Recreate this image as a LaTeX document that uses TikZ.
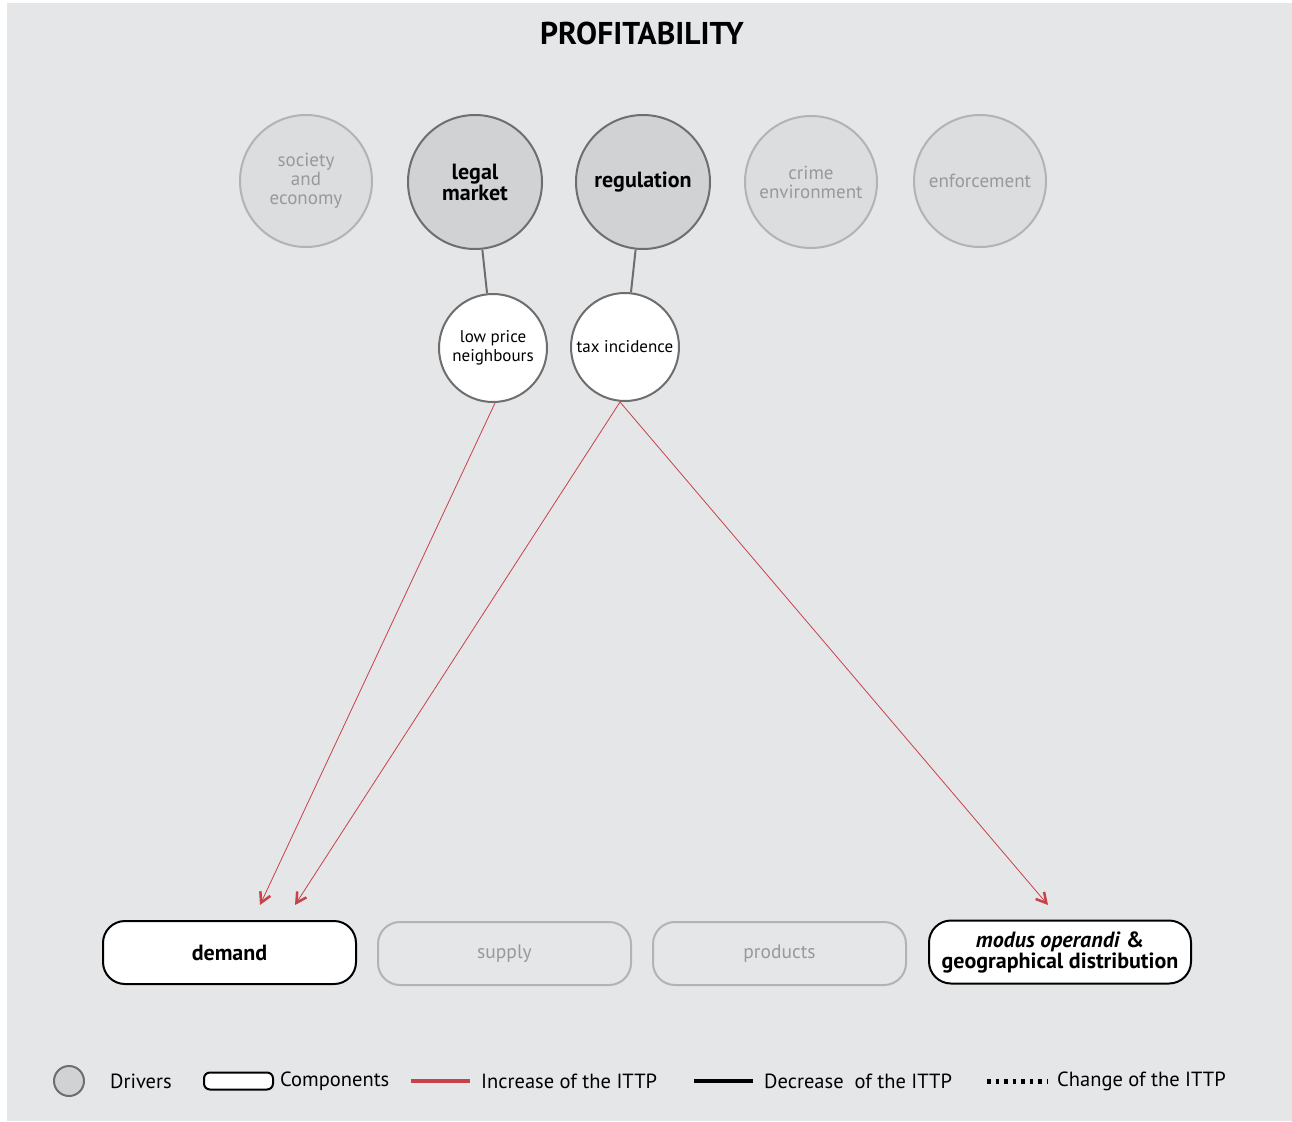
\documentclass[tikz,border=0pt]{standalone}
\usepackage{fontspec}
\setmainfont{PT Sans}
\usetikzlibrary{arrows.meta}
\definecolor{bggray}{HTML}{E5E6E8}
\definecolor{drvfill}{HTML}{D1D2D4}
\definecolor{lightfill}{HTML}{DCDDDF}
\definecolor{darkedge}{HTML}{6E6E6E}
\definecolor{lightedge}{HTML}{B3B3B3}
\definecolor{lighttext}{HTML}{999999}
\definecolor{incred}{HTML}{C8414B}
\tikzset{
  driveron/.style={circle, draw=darkedge, line width=2pt, fill=drvfill, minimum size=134pt, inner sep=0pt, align=center, font=\fontsize{22}{19}\selectfont\bfseries, text=black},
  driveroff/.style={circle, draw=lightedge, line width=2pt, fill=lightfill, minimum size=132pt, inner sep=0pt, align=center, font=\fontsize{19}{19}\selectfont, text=lighttext},
  subdriver/.style={circle, draw=darkedge, line width=2pt, fill=white, minimum size=108pt, inner sep=0pt, align=center, font=\fontsize{17}{19}\selectfont, text=black},
  compon/.style={draw=black, line width=2pt, fill=white, rounded corners=22pt, minimum width=253pt, minimum height=63pt, inner sep=0pt, align=center, font=\fontsize{22}{19}\selectfont, text=black},
  compoff/.style={draw=lightedge, line width=2pt, rounded corners=22pt, minimum width=253pt, minimum height=63pt, inner sep=0pt, align=center, font=\fontsize{19.5}{19}\selectfont, text=lighttext},
  link/.style={draw=darkedge, line width=2pt},
  incarrow/.style={draw=incred, line width=0.8pt, -{Straight Barb[length=10pt,width=11pt,line width=2.5pt]}},
  legtext/.style={anchor=west, font=\fontsize{20.5}{22}\selectfont, text=black, inner sep=0pt},
}
\begin{document}
\begin{tikzpicture}[x=1pt,y=-1pt]
\useasboundingbox (0,0) rectangle (1292,1121);
\fill[white] (0,0) rectangle (1292,1121);
\fill[bggray] (7,3) rectangle (1292,1121);

\node[font=\fontsize{31.5}{32}\selectfont\bfseries] (title) at (642,33) {PROFITABILITY};

\node[driveroff] (soc) at (306,181) {society\\and\\economy};
\node[driveron] (legal) at (475,182) {legal\\market};
\node[driveron] (reg) at (643,182) {regulation};
\node[driveroff] (crime) at (811,182) {crime\\environment};
\node[driveroff] (enf) at (980,181) {enforcement};

\node[subdriver] (low) at (493,348) {low price\\neighbours};
\node[subdriver] (tax) at (625,347) {tax incidence};

\draw[link] (legal) -- (low);
\draw[link] (reg) -- (tax);

\node[compon] (dem) at (229.5,952.5) {\bfseries demand};
\node[compoff] (sup) at (504.5,953.5) {supply};
\node[compoff] (prod) at (779.5,953.5) {products};
\node[compon, minimum width=262pt, font=\fontsize{22}{19}\selectfont\bfseries] (mod) at (1060,952) {\itshape modus operandi\/ \upshape\&\\geographical distribution};

\coordinate (d1) at (260,905);
\coordinate (d2) at (295,905);
\coordinate (m1) at (1048,905);
\draw[incarrow] (low.south) ++(2,0) -- (d1);
\draw[incarrow] (tax.south) ++(-5,0) -- (d2);
\draw[incarrow] (tax.south) ++(-5,0) -- (m1);

% legend
\node[circle, draw=darkedge, line width=2pt, fill=drvfill, minimum size=30pt, inner sep=0pt] (lgc) at (69,1081) {};
\node[legtext] (lgd) at (110,1081) {Drivers};
\node[draw=black, line width=2pt, fill=white, rounded corners=6pt, minimum width=69pt, minimum height=17pt, inner sep=0pt] (lgb) at (238.5,1081) {};
\node[legtext] (lgct) at (280,1081) {Components};
\coordinate (lr1) at (411,1081); \coordinate (lr2) at (470,1081);
\draw[incred, line width=4.5pt] (lr1) -- (lr2);
\node[legtext] (lgi) at (481,1081) {Increase of the ITTP};
\coordinate (lb1) at (694,1081); \coordinate (lb2) at (753,1081);
\draw[black, line width=4.5pt] (lb1) -- (lb2);
\node[legtext] (lgdec) at (764,1081) {Decrease\ \ of the ITTP};
\coordinate (lc1) at (987,1081); \coordinate (lc2) at (1047,1081);
\draw[black, line width=5pt, dash pattern=on 3.5pt off 5pt] (lc1) -- (lc2);
\node[legtext] (lgch) at (1057,1081) {Change of the ITTP};
\end{tikzpicture}
\end{document}
